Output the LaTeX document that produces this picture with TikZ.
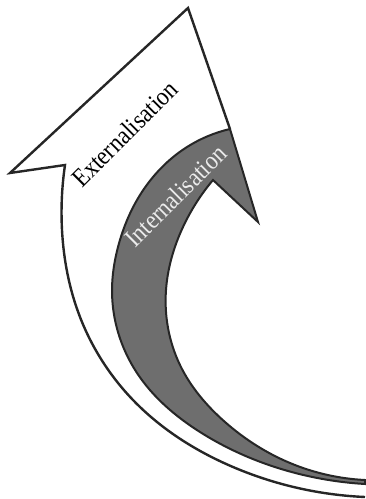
\documentclass[tikz,border=0pt]{standalone}
\usepackage{fontspec}
\setmainfont{Liberation Serif}
\usetikzlibrary{hobby}
\tikzset{
    ext arrow/.style={
        draw=black!85,
        line width=2.4pt,
        line join=miter,
        fill=white
    },
    int arrow/.style={
        draw=black!85,
        line width=2pt,
        line join=miter,
        fill=black!57
    },
    arrow label/.style={
        inner sep=0pt,
        anchor=base west,
        font=\fontsize{26}{26}\selectfont
    }
}
\begin{document}
\begin{tikzpicture}[x=1pt,y=-1pt,use Hobby shortcut]
                \useasboundingbox (0,0) rectangle (365,499);
                % white arrow
                \coordinate (E1) at (365,497);
                \coordinate (E2) at (233,467);
                \coordinate (E3) at (133,400);
                \coordinate (E4) at (80,317);
                \coordinate (E5) at (62,230);
                \coordinate (E6) at (65,165);
                \coordinate (E7) at (10,173);
                \coordinate (E8) at (188,8);
                % grey arrow
                \coordinate (I1) at (230,129);
                \coordinate (I2) at (258,222);
                \coordinate (I3) at (213,180);
                \coordinate (I4) at (183,227);
                \coordinate (I5) at (166,290);
                \coordinate (I6) at (180,365);
                \coordinate (I7) at (225,422);
                \coordinate (I8) at (290,463);
                \coordinate (I9) at (365,480);
                \coordinate (I10) at (365,484);
                \coordinate (I11) at (288,471);
                \coordinate (I12) at (200,432);
                \coordinate (I13) at (137,373);
                \coordinate (I14) at (112,290);
                \coordinate (I15) at (118,247);
                \coordinate (I16) at (140,195);
                \coordinate (I17) at (187,147);
                \draw [ext arrow] (E1)..(E2)..(E3)..(E4)..(E5)..(E6) -- (E7) -- (E8) -- (I1);
                \draw [int arrow] (I1) -- (I2) -- (I3)..(I4)..(I5)..(I6)..(I7)..(I8)..(I9) -- (I10)..(I11)..(I12)..(I13)..(I14)..(I15)..(I16)..(I17)..(I1) -- cycle;
                \node [arrow label, rotate=45, xscale=0.88] (ext) at (82,189) {Externalisation};
                \node [arrow label, rotate=45, xscale=0.88, text=black!8] (int) at (135,249) {Internalisation};
            \end{tikzpicture}
\end{document}
